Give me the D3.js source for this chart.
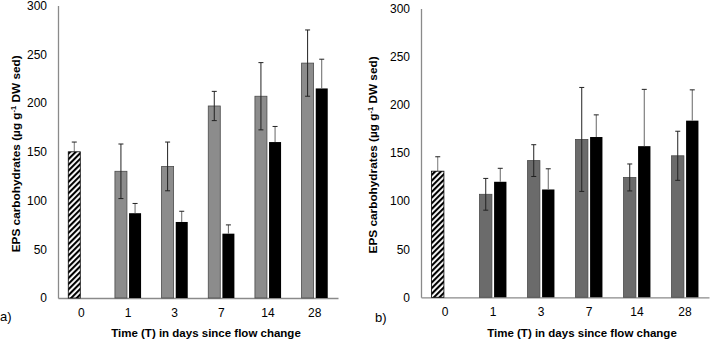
<!DOCTYPE html>
<meta charset="utf-8">
<style>
  body { margin: 0; background: #fff; }
  text { font-family: "Liberation Sans", Arial, sans-serif; fill: #000; }
  .tick text { font-size: 12px; }
  .title { font-size: 11.5px; font-weight: bold; }
</style>
<svg width="710" height="340"></svg>
<script src="https://d3js.org/d3.v7.min.js"></script>
<script>

  var days = ["0", "1", "3", "7", "14", "28"];
  var yTicks = [0, 50, 100, 150, 200, 250, 300];

  // panel a
  var controlA = 150, controlErrA = 10;
  var greyA = [null, 130, 135, 197, 207, 241];
  var greyErrA = [null, 28, 25, 15, 34.5, 34];
  var blackA = [null, 87, 78, 66, 160, 215];
  var blackErrA = [null, 10, 11, 9, 16, 30];

  // panel b
  var controlB = 131, controlErrB = 15;
  var greyB = [null, 107, 142, 164, 124.5, 147];
  var greyErrB = [null, 16.5, 16.5, 54, 14, 25.5];
  var blackB = [null, 120, 112, 166.5, 157, 183.5];
  var blackErrB = [null, 14, 21.5, 23, 59, 32];

  var svg = d3.select("svg");

  var defs = svg.append("defs");
  var pat = defs.append("pattern")
    .attr("id", "hatch")
    .attr("patternUnits", "userSpaceOnUse")
    .attr("width", 4).attr("height", 4)
    .attr("patternTransform", "rotate(45)");
  pat.append("rect").attr("width", 4).attr("height", 4).attr("fill", "#fff");
  pat.append("rect").attr("width", 2.1).attr("height", 4).attr("fill", "#000");

  drawPanel({
    left: 58, right: 338, bottom: 298, top: 5.6,
    grey: greyA, greyErr: greyErrA, black: blackA, blackErr: blackErrA,
    control: controlA, controlErr: controlErrA,
    greyFill: "#8c8c8c", label: "a)", labelX: 0, labelY: 321,
    yTitleX: 16, xTitleX: 206
  });

  drawPanel({
    left: 421, right: 709, bottom: 297.3, top: 8.5,
    grey: greyB, greyErr: greyErrB, black: blackB, blackErr: blackErrB,
    control: controlB, controlErr: controlErrB,
    greyFill: "#6b6b6b", label: "b)", labelX: 375, labelY: 322,
    yTitleX: 373, xTitleX: 582
  });

  function drawPanel(p) {
    var g = svg.append("g");

    var x = d3.scaleBand()
      .domain(days)
      .range([p.left, p.right])
      .paddingInner(0.44)
      .paddingOuter(0.22);

    var xs = d3.scaleBand()
      .domain(["grey", "black"])
      .range([0, x.bandwidth()])
      .paddingInner(0.15);

    var y = d3.scaleLinear()
      .domain([0, 300])
      .range([p.bottom, p.top]);

    // axes
    var yAxis = g.append("g")
      .attr("transform", "translate(" + p.left + ",0)")
      .call(d3.axisLeft(y).tickValues(yTicks).tickSize(0).tickPadding(11));
    yAxis.select(".domain").attr("stroke", "#8a8a8a").attr("stroke-width", 1.3);

    var xAxis = g.append("g")
      .attr("transform", "translate(0," + p.bottom + ")")
      .call(d3.axisBottom(x).tickSize(0).tickPadding(10));
    xAxis.select(".domain").attr("stroke", "#8a8a8a").attr("stroke-width", 1.3);

    var rows = days.map(function (d, i) {
      return {
        day: d,
        grey: i === 0 ? p.control : p.grey[i],
        greyErr: i === 0 ? p.controlErr : p.greyErr[i],
        black: p.black[i],
        blackErr: p.blackErr[i]
      };
    });

    // control error bar goes under the hatched bar
    var ctrl = rows[0];
    var cx = x(ctrl.day) + xs("grey") + xs.bandwidth() / 2;
    errBar(g, cx, y(ctrl.grey), y(ctrl.grey + ctrl.greyErr), "#777");
    g.append("rect")
      .attr("x", x(ctrl.day) + xs("grey"))
      .attr("y", y(ctrl.grey))
      .attr("width", xs.bandwidth())
      .attr("height", y(0) - y(ctrl.grey))
      .attr("fill", "url(#hatch)")
      .attr("stroke", "#000")
      .attr("stroke-width", 0.8);

    var rest = rows.slice(1);

    g.selectAll(".bar-grey")
      .data(rest)
      .enter().append("rect")
      .attr("class", "bar-grey")
      .attr("x", function (d) { return x(d.day) + xs("grey"); })
      .attr("y", function (d) { return y(d.grey); })
      .attr("width", xs.bandwidth())
      .attr("height", function (d) { return y(0) - y(d.grey); })
      .attr("fill", p.greyFill)
      .attr("stroke", "#4a4a4a")
      .attr("stroke-width", 0.8);

    g.selectAll(".bar-black")
      .data(rest)
      .enter().append("rect")
      .attr("class", "bar-black")
      .attr("x", function (d) { return x(d.day) + xs("black"); })
      .attr("y", function (d) { return y(d.black); })
      .attr("width", xs.bandwidth())
      .attr("height", function (d) { return y(0) - y(d.black); })
      .attr("fill", "#000");

    rest.forEach(function (d) {
      var gx = x(d.day) + xs("grey") + xs.bandwidth() / 2;
      errBar(g, gx, y(d.grey - d.greyErr), y(d.grey + d.greyErr), "#222");
      var bx = x(d.day) + xs("black") + xs.bandwidth() / 2;
      errBar(g, bx, y(d.black), y(d.black + d.blackErr), "#666");
    });

    // titles
    g.append("text")
      .attr("class", "title")
      .style("font-size", "11.8px")
      .attr("transform", "translate(" + p.yTitleX + "," + ((p.top + p.bottom) / 2 + 2) + ") rotate(-90)")
      .attr("text-anchor", "middle")
      .attr("dy", "0.35em")
      .html('EPS carbohydrates (µg g<tspan dy="-4" font-size="7.5px">-1</tspan><tspan dy="4"> DW sed)</tspan>');

    g.append("text")
      .attr("class", "title")
      .attr("x", p.xTitleX)
      .attr("y", 337)
      .attr("text-anchor", "middle")
      .text("Time (T) in days since flow change");

    g.append("text")
      .attr("x", p.labelX)
      .attr("y", p.labelY)
      .style("font-size", "13px")
      .text(p.label);
  }

  function errBar(g, cx, y1, y2, stem) {
    g.append("line")
      .attr("x1", cx).attr("x2", cx)
      .attr("y1", y1).attr("y2", y2)
      .attr("stroke", stem).attr("stroke-width", 1);
    g.append("line")
      .attr("x1", cx - 2.5).attr("x2", cx + 2.5)
      .attr("y1", y2).attr("y2", y2)
      .attr("stroke", "#222").attr("stroke-width", 1);
    if (y1 > y2 && stem === "#222") {
      g.append("line")
        .attr("x1", cx - 2.5).attr("x2", cx + 2.5)
        .attr("y1", y1).attr("y2", y1)
        .attr("stroke", "#222").attr("stroke-width", 1);
    }
  }

</script>
